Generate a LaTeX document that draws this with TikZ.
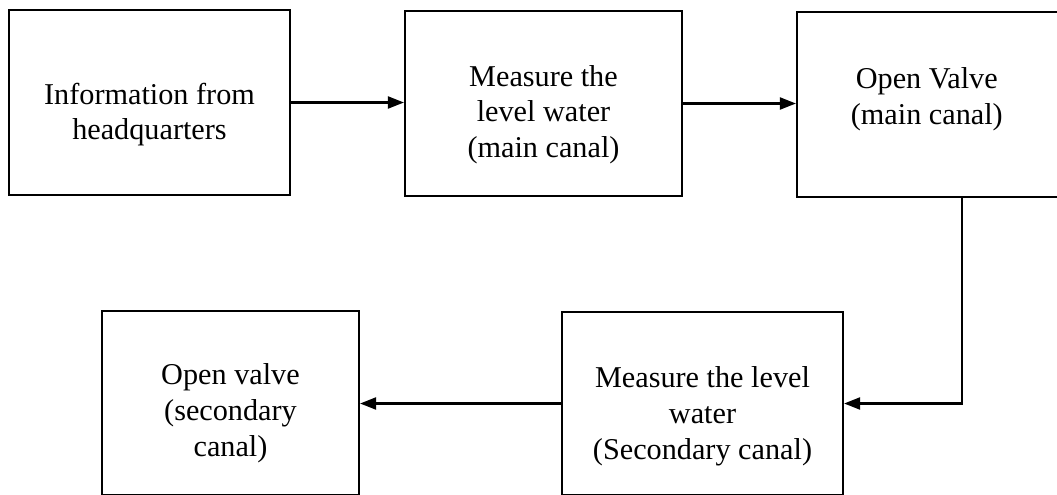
\documentclass[tikz,border=0pt]{standalone}
\usepackage{fontspec}
\setmainfont{Liberation Serif}
\usetikzlibrary{arrows.meta}
\tikzset{
  box/.style ={draw, line width=1.5pt, inner sep=0pt},
  lbl/.style ={font=\fontsize{21.5}{25.5}\selectfont, align=center},
  flow/.style={-{Triangle[length=4mm, width=3mm]}, line width=1.5pt},
}
\begin{document}
\begin{tikzpicture}[x=0.025cm, y=-0.025cm]
  \useasboundingbox (0,0) rectangle (1057,494);
  \clip (0,0) rectangle (1057,494);
  % top row
  \node[box, minimum width=7.025cm, minimum height=4.625cm,
        label={[lbl, yshift=-0.3cm]center:Information from\\headquarters}] (info) at (149.5,102.5) {};
  \node[box, minimum width=6.925cm, minimum height=4.625cm,
        label={[lbl, yshift=-0.28cm]center:Measure the\\level water\\(main canal)}] (lvmain) at (543.5,103.5) {};
  \node[box, minimum width=8.25cm, minimum height=4.625cm,
        label={[lbl, xshift=-0.88cm, yshift=0.13cm]center:Open Valve\\(main canal)}] (ovmain) at (962,104.5) {};
  % bottom row
  \node[box, minimum width=7.025cm, minimum height=4.575cm,
        label={[lbl, yshift=-0.32cm]center:Measure the level\\water\\(Secondary canal)}] (lvsec) at (702.5,403.5) {};
  \node[box, minimum width=6.425cm, minimum height=4.6cm,
        label={[lbl, yshift=-0.26cm]center:Open valve\\(secondary\\canal)}] (ovsec) at (230.5,403) {};
  % connectors
  \draw[flow] (info.east)   -- (info.east -| lvmain.west);
  \draw[flow] (lvmain.east) -- (lvmain.east -| ovmain.west);
  \draw[flow] (ovmain.south) |- (lvsec.east);
  \draw[flow] (lvsec.west)  -- (lvsec.west -| ovsec.east);
\end{tikzpicture}
\end{document}
